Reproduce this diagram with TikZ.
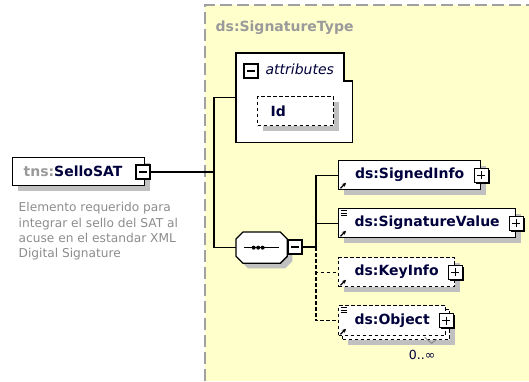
\documentclass[tikz,border=0pt]{standalone}
\usepackage{fontspec}
\setmainfont{DejaVu Sans}
\usepackage{xcolor}
\definecolor{typeyellow}{HTML}{FFFFCC}
\definecolor{typeborder}{HTML}{A0A0A0}
\definecolor{typetitle}{HTML}{9A9A9A}
\definecolor{shadowgray}{HTML}{C0C0C0}
\definecolor{namenavy}{HTML}{00003C}
\definecolor{notegray}{HTML}{8C8C8C}
\usepackage{tikz}
\usetikzlibrary{arrows.meta, shadows}

\begin{document}
\begin{tikzpicture}[x=1pt, y=-1pt,
    line width=1.3pt,
    boxshadow/.style={general shadow={fill=shadowgray, shadow xshift=5pt, shadow yshift=-5pt}},
    elembox/.style={draw, fill=white, anchor=north west, minimum height=29, inner sep=0pt,
      font=\fontsize{14}{16}\selectfont\bfseries, text=namenavy},
    elem/.style={elembox, boxshadow},
    optdash/.style={dash pattern=on 3.5pt off 2.5pt},
    pmbox/.style={draw, fill=white, minimum size=14, inner sep=0pt, line width=1.1pt,
      general shadow={fill=black, shadow xshift=1.4pt, shadow yshift=-1.4pt}},
    minusbox/.style={pmbox, path picture={
      \draw[line width=1.1pt] ([xshift=3pt]path picture bounding box.west) -- ([xshift=-3pt]path picture bounding box.east);}},
    plusbox/.style={pmbox, path picture={
      \draw[line width=1.1pt] ([xshift=3pt]path picture bounding box.west) -- ([xshift=-3pt]path picture bounding box.east);
      \draw[line width=1.1pt] ([yshift=-3pt]path picture bounding box.north) -- ([yshift=3pt]path picture bounding box.south);}}
]
  \useasboundingbox (0,0) rectangle (529,381);

  % Bereich des komplexen Typs
  \fill[typeyellow] (205,5) rectangle (529,381);
  \draw[typeborder, line width=1.4pt, dash pattern=on 12pt off 5pt] (205,381) |- (529,5);
  \node[anchor=base west, inner sep=0pt, text=typetitle, font=\fontsize{14}{16}\selectfont\bfseries]
    (typename) at (215,31.5) {ds:SignatureType};

  % Element tns:SelloSAT mit Beschreibung
  \node[elem, minimum height=28, minimum width=132, text width=110, inner xsep=11, align=left]
    (sello) at (12,157) {\textcolor{typetitle}{tns:}SelloSAT};
  \node[minusbox] (sellom) at (143,172) {};
  \node[anchor=north west, inner sep=0pt, align=left, text=notegray, font=\fontsize{12.2}{15.3}\selectfont]
    (selloinfo) at (18,202) {Elemento requerido para\\integrar el sello del SAT al\\acuse en el estandar XML\\Digital Signature};

  % Attribute
  \node[minimum width=115, minimum height=88, anchor=north west, inner sep=0pt] (attrs) at (236,53) {};
  \draw[fill=white] (attrs.south west) |- (attrs.north west) -- ++(108,0) -- ++(0,28) -| (attrs.south east) -- cycle;
  \node[minusbox] (attrsm) at (251,71) {};
  \node[anchor=base west, inner sep=0pt, text=namenavy, font=\fontsize{14}{16}\selectfont\itshape]
    (attrslabel) at (265,74.5) {attributes};
  \node[elem, optdash, minimum width=76, text width=50, inner xsep=13, align=left] (id) at (257,96) {Id};

  % Sequenz
  \node[minimum width=50, minimum height=30, anchor=north west, inner sep=0pt] (seq) at (236,232) {};
  \draw[fill=white, boxshadow] ([xshift=7pt]seq.north west) -- ([xshift=-7pt]seq.north east)
    -- ([yshift=-7pt]seq.north east) -- ([yshift=7pt]seq.south east) -- ([xshift=-7pt]seq.south east)
    -- ([xshift=7pt]seq.south west) -- ([yshift=7pt]seq.south west) -- ([yshift=-7pt]seq.north west) -- cycle;
  \draw ([xshift=-18pt]seq.center) -- ([xshift=17pt]seq.center);
  \foreach \dx in {-8,-3.5,1}
    \fill ([xshift=\dx pt]seq.center) circle (2);
  \node[minusbox] (seqm) at (295,247) {};

  % Kindelemente
  \node[elem, minimum width=142] (signedinfo) at (338,160) {ds:SignedInfo};
  \node[elem, minimum width=177] (sigvalue) at (338,208) {ds:SignatureValue};
  \node[elem, optdash, minimum width=116] (keyinfo) at (338,257) {ds:KeyInfo};
  \node[elem, optdash, minimum width=107, minimum height=30] (objback) at (342,309) {};
  \node[elembox, optdash, minimum width=107, minimum height=30] (object) at (338,305) {ds:Object};
  \node[plusbox] (signedinfop) at (signedinfo.east) {};
  \node[plusbox] (sigvaluep) at (sigvalue.east) {};
  \node[plusbox] (keyinfop) at (keyinfo.east) {};
  \node[plusbox] (objectp) at (object.east) {};

  % Symbole in den Elementen
  \foreach \n in {signedinfo,sigvalue,keyinfo,object}
    \draw[-{Stealth[length=4pt,width=4pt]}, line width=1.2pt] ([shift={(2.5,-2)}]\n.south west) -- ++(5.5,-5.5);
  \foreach \n in {sigvalue,object}
    \foreach \dy in {2.5,5,7.5}
      \draw[line width=0.9pt] ([shift={(2.5,\dy)}]\n.north west) -- ++(6,0);

  % Kardinalitaet
  \draw[gray, line width=0.8pt] ([shift={(28.5,-3)}]objback.south) -- ++(7,6) -- ++(5,-4);
  \node[inner sep=0pt, text=namenavy, font=\fontsize{12.5}{14}\selectfont] (objcount) at (422,355) {0..∞};

  % Verbindungen
  \coordinate (trunk) at (214,172);
  \coordinate (fork) at (316,247);
  \draw (sellom) -- (trunk);
  \draw (trunk) |- (attrs.west);
  \draw (trunk) |- (seq.west);
  \draw (seqm) -- (fork);
  \draw (fork) |- (signedinfo.west);
  \draw (fork) |- (sigvalue.west);
  \draw[optdash] (fork) |- (keyinfo.west);
  \draw[optdash] (fork) |- (object.west);

\end{tikzpicture}
\end{document}
